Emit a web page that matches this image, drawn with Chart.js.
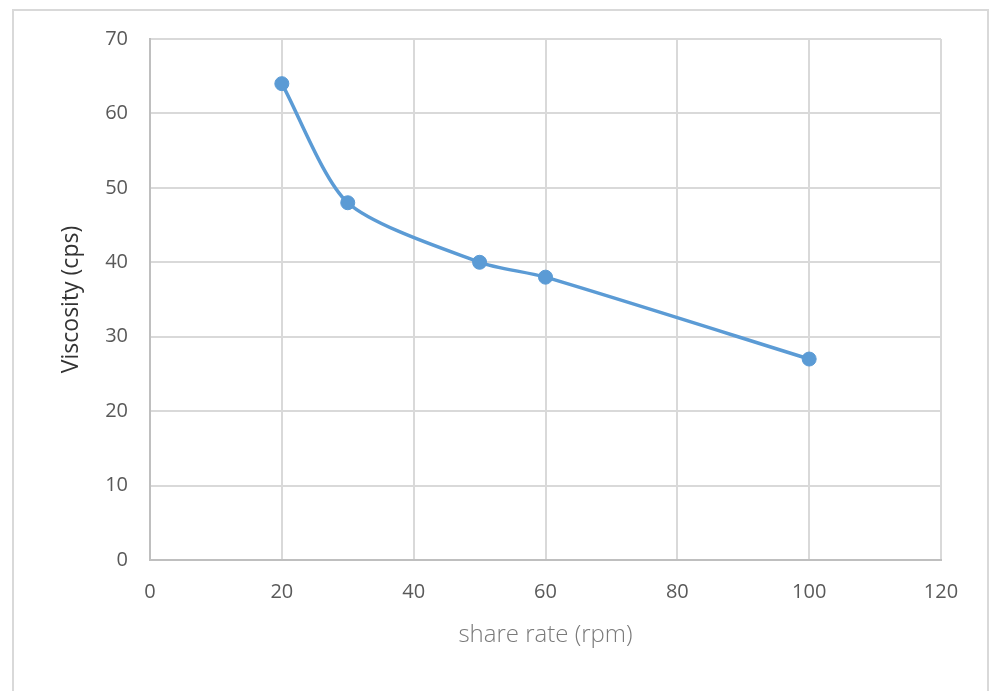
<!DOCTYPE html>
<html>
<head>
<meta charset="utf-8">
<script src="https://cdn.jsdelivr.net/npm/chart.js@4/dist/chart.umd.min.js"></script>
<style>
  html, body { margin: 0; padding: 0; background: #ffffff; }
  #wrap { position: relative; width: 990px; height: 691px; }
</style>
</head>
<body>
<div id="wrap"><canvas id="c" width="990" height="691"></canvas></div>
<script>
const shareRate = [20, 30, 50, 60, 100];
const viscosity = [64, 48, 40, 38, 27];
const xTitle = 'share rate (rpm)';
const yTitle = 'Viscosity (cps)';

const points = shareRate.map((x, i) => ({ x: x, y: viscosity[i] }));

const outerBorder = {
  id: 'outerBorder',
  beforeDraw(chart) {
    const ctx = chart.ctx;
    ctx.save();
    ctx.fillStyle = '#ffffff';
    ctx.fillRect(0, 0, chart.width, chart.height);
    ctx.strokeStyle = '#d9d9d9';
    ctx.lineWidth = 2;
    ctx.strokeRect(13, 10, 975, 720);
    ctx.restore();
  }
};

new Chart(document.getElementById('c'), {
  type: 'scatter',
  data: {
    datasets: [{
      data: points,
      showLine: true,
      borderColor: '#5b9bd5',
      backgroundColor: '#5b9bd5',
      borderWidth: 3.5,
      pointRadius: 7,
      pointHoverRadius: 7,
      pointBorderWidth: 1,
      tension: 0.25
    }]
  },
  options: {
    responsive: false,
    animation: false,
    layout: { padding: { left: 0, top: 39, right: 49, bottom: 0 } },
    plugins: { legend: { display: false }, tooltip: { enabled: false } },
    scales: {
      x: {
        type: 'linear',
        min: 0, max: 120,
        afterFit(s) { s.height = 131; },
        ticks: { stepSize: 20, padding: 20, color: '#595959', font: { family: 'Open Sans', size: 20 } },
        grid: { color: '#d9d9d9', lineWidth: 2, drawTicks: false },
        border: { color: '#bfbfbf', width: 2 },
        title: { display: true, text: xTitle, color: '#7a7a7a', font: { family: 'Open Sans', size: 24, weight: '300' }, padding: { top: 0, bottom: 41 } }
      },
      y: {
        type: 'linear',
        min: 0, max: 70,
        afterFit(s) { s.width = 150; },
        ticks: { stepSize: 10, padding: 22, color: '#595959', font: { family: 'Open Sans', size: 20 } },
        grid: { color: '#d9d9d9', lineWidth: 2, drawTicks: false },
        border: { color: '#bfbfbf', width: 2 },
        title: { display: true, text: yTitle, color: '#333333', font: { family: 'Open Sans', size: 23 }, padding: { top: 58, bottom: 0 } }
      }
    }
  },
  plugins: [outerBorder]
});
</script>
</body>
</html>
